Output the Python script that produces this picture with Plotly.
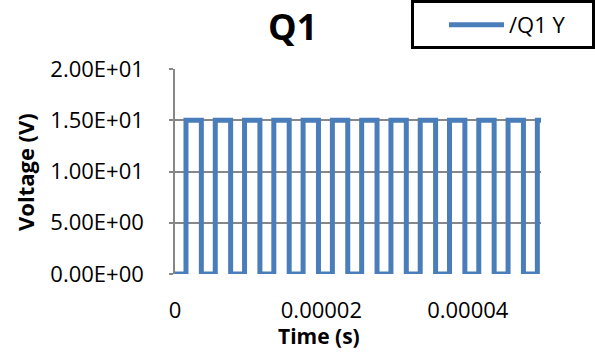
import plotly.graph_objects as go

# ---- data ----
rise_us = [1.5, 5.5, 9.5, 13.5, 17.5, 21.5, 25.5, 29.5, 33.5, 37.5, 41.5, 45.5, 49.5]
fall_us = [3.6, 7.6, 11.6, 15.6, 19.6, 23.6, 27.6, 31.6, 35.6, 39.6, 43.6, 47.6]
low_level = 0.0
high_level = 15.0
t_end_us = 50.0
series_name = "/Q1 Y"

y_tickvals = [0, 5, 10, 15, 20]
y_ticktext = ["0.00E+00", "5.00E+00", "1.00E+01", "1.50E+01", "2.00E+01"]
x_tickvals = [0, 0.00002, 0.00004]
x_ticktext = ["0", "0.00002", "0.00004"]

# ---- build waveform from the transition times ----
t = [0.0]
v = [low_level]
for i, r in enumerate(rise_us):
    t += [r * 1e-6, r * 1e-6]
    v += [low_level, high_level]
    if i < len(fall_us):
        f = fall_us[i]
        t += [f * 1e-6, f * 1e-6]
        v += [high_level, low_level]
t.append(t_end_us * 1e-6)
v.append(v[-1])

FONT = "Open Sans"
BLUE = "#4A7EBB"
GRID = "#878787"

fig = go.Figure()
fig.add_trace(go.Scatter(x=t, y=v, mode="lines", name=series_name,
                         line=dict(color=BLUE, width=5), showlegend=True))

L, R, T, B = 175, 54, 69, 84
W, H = 595, 358
pw, ph = W - L - R, H - T - B

def px_x(px):
    return (px - L) / pw

def px_y(py):
    return (H - B - py) / ph

fig.update_layout(
    width=W, height=H,
    margin=dict(l=L, r=R, t=T, b=B, autoexpand=False),
    paper_bgcolor="white", plot_bgcolor="white",
    font=dict(family=FONT, size=22, color="black"),
    showlegend=True,
    legend=dict(x=px_x(444), y=px_y(25), xanchor="left", yanchor="middle",
                bgcolor="rgba(0,0,0,0)", borderwidth=0, itemwidth=55,
                font=dict(family=FONT, size=22, color="black")),
    xaxis=dict(range=[0, 0.00005], tickvals=x_tickvals, ticktext=x_ticktext,
               showgrid=False, zeroline=False, showline=False,
               ticks="", ticklabelstandoff=21,
               tickfont=dict(family=FONT, size=22)),
    yaxis=dict(range=[0, 20], tickvals=y_tickvals, ticktext=y_ticktext,
               showgrid=True, gridcolor=GRID, gridwidth=1.6,
               zeroline=False, showline=True, linecolor=GRID, linewidth=1.6,
               ticks="outside", ticklen=4, tickcolor=GRID, tickwidth=1.6,
               ticklabelstandoff=21,
               tickfont=dict(family=FONT, size=22)),
    annotations=[
        dict(text="<b>Q1</b>", xref="paper", yref="paper", x=px_x(292), y=px_y(26),
             showarrow=False, font=dict(family=FONT, size=36), xanchor="center", yanchor="middle"),
        dict(text="<b>Time (s)</b>", xref="paper", yref="paper", x=px_x(319), y=px_y(336),
             showarrow=False, font=dict(family=FONT, size=21), xanchor="center", yanchor="middle"),
        dict(text="<b>Voltage (V)</b>", xref="paper", yref="paper", x=px_x(25), y=px_y(172),
             showarrow=False, textangle=-90, font=dict(family=FONT, size=22),
             xanchor="center", yanchor="middle"),
    ],
    shapes=[
        dict(type="rect", xref="paper", yref="paper",
             x0=px_x(412.5), x1=px_x(593.5), y0=px_y(47.5), y1=px_y(1.5),
             line=dict(color="black", width=3), fillcolor="rgba(0,0,0,0)", layer="above"),
    ],
)

fig.write_html("out.html", config={"displayModeBar": False},
               post_script="document.body.style.margin='0';document.body.style.overflow='hidden';")
